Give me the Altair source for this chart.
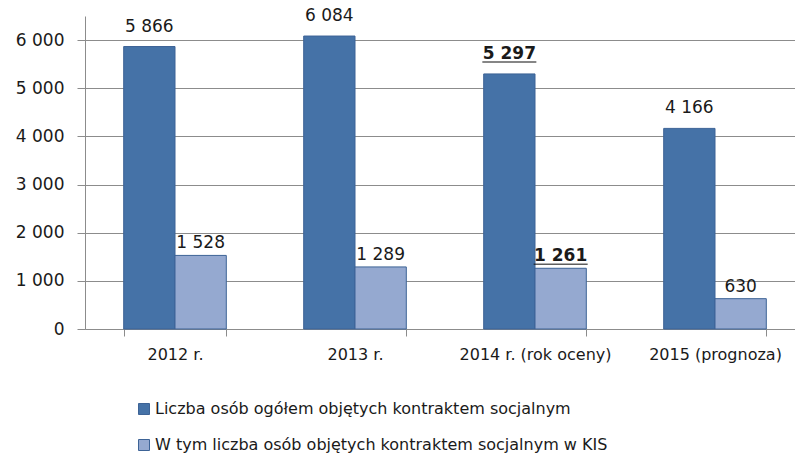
import altair as alt
import pandas as pd

categories = ["2012 r.", "2013 r.", "2014 r. (rok oceny)", "2015 (prognoza)"]
series_names = [
    "Liczba osób ogółem objętych kontraktem socjalnym",
    "W tym liczba osób objętych kontraktem socjalnym w KIS",
]
total = [5866, 6084, 5297, 4166]
kis = [1528, 1289, 1261, 630]
emphasis = [False, False, True, False]
colors = ["#4572a7", "#95a9d0"]
y_ticks = [0, 1000, 2000, 3000, 4000, 5000, 6000]

rows = []
for i, c in enumerate(categories):
    rows.append(dict(cat=c, series=series_names[0], value=total[i], bold=emphasis[i]))
    rows.append(dict(cat=c, series=series_names[1], value=kis[i], bold=emphasis[i]))
df = pd.DataFrame(rows)

FONT = "DejaVu Sans"
GRID = "#8c8c8c"
TXT = "#1a1a1a"

x_enc = alt.X(
    "cat:N",
    sort=categories,
    scale=alt.Scale(paddingInner=0.43, paddingOuter=0.215, range=[0, 720]),
    axis=alt.Axis(
        title=None, labelAngle=0, tickBand="extent", tickSize=7,
        tickColor=GRID, domainColor=GRID, labelPadding=10,
        labelFontSize=16, labelColor=TXT, labelFont=FONT, grid=False,
    ),
)
y_enc = alt.Y(
    "value:Q",
    scale=alt.Scale(domain=[0, 6500], nice=False),
    axis=alt.Axis(
        title=None, values=y_ticks, tickSize=8, tickColor=GRID,
        domainColor=GRID, gridColor=GRID, gridWidth=1,
        labelPadding=13, labelFontSize=17, labelColor=TXT, labelFont=FONT,
        labelExpr="replace(format(datum.value, ','), ',', ' ')",
    ),
)
x_off = alt.XOffset("series:N", sort=series_names)

base = alt.Chart(df)

bars = base.mark_bar(stroke="#3d6396", strokeWidth=1).encode(
    x=x_enc,
    xOffset=x_off,
    y=y_enc,
    color=alt.Color(
        "series:N",
        sort=series_names,
        scale=alt.Scale(domain=series_names, range=colors),
        legend=alt.Legend(title=None),
    ),
)

layers = [bars]
offsets = {series_names[0]: -15, series_names[1]: -7}
for s in series_names:
    sub = base.transform_filter(alt.datum.series == s).transform_calculate(
        label="replace(format(datum.value, ','), ',', ' ')"
    )
    for is_bold in (False, True):
        txt = sub.transform_filter(
            "datum.bold" if is_bold else "!datum.bold"
        ).mark_text(
            baseline="alphabetic", dy=offsets[s], fontSize=17, font=FONT,
            color=TXT, fontWeight="bold" if is_bold else "normal",
        ).encode(
            x=alt.X("cat:N", sort=categories),
            xOffset=x_off,
            y="value:Q",
            text="label:N",
        )
        layers.append(txt)
    ul = sub.transform_filter("datum.bold").mark_tick(
        size=54, thickness=1.6, color=TXT, yOffset=offsets[s] + 3
    ).encode(
        x=alt.X("cat:N", sort=categories),
        xOffset=x_off,
        y="value:Q",
    )
    layers.append(ul)

chart = (
    alt.layer(*layers)
    .properties(
        width=710, height=313,
        autosize=alt.AutoSizeParams(type="none"),
        padding={"left": 85, "top": 16, "right": 0, "bottom": 130},
    )
    .configure_view(stroke=None)
    .configure_legend(
        orient="none", legendX=51, legendY=385, direction="vertical",
        symbolType="square", symbolSize=121, symbolStrokeColor="#3d6396",
        symbolStrokeWidth=1, labelFontSize=16, labelFont=FONT, labelColor=TXT,
        labelLimit=0, rowPadding=20, labelOffset=3,
    )
)

chart.save("out.html", embed_options={"renderer": "svg", "actions": False})
